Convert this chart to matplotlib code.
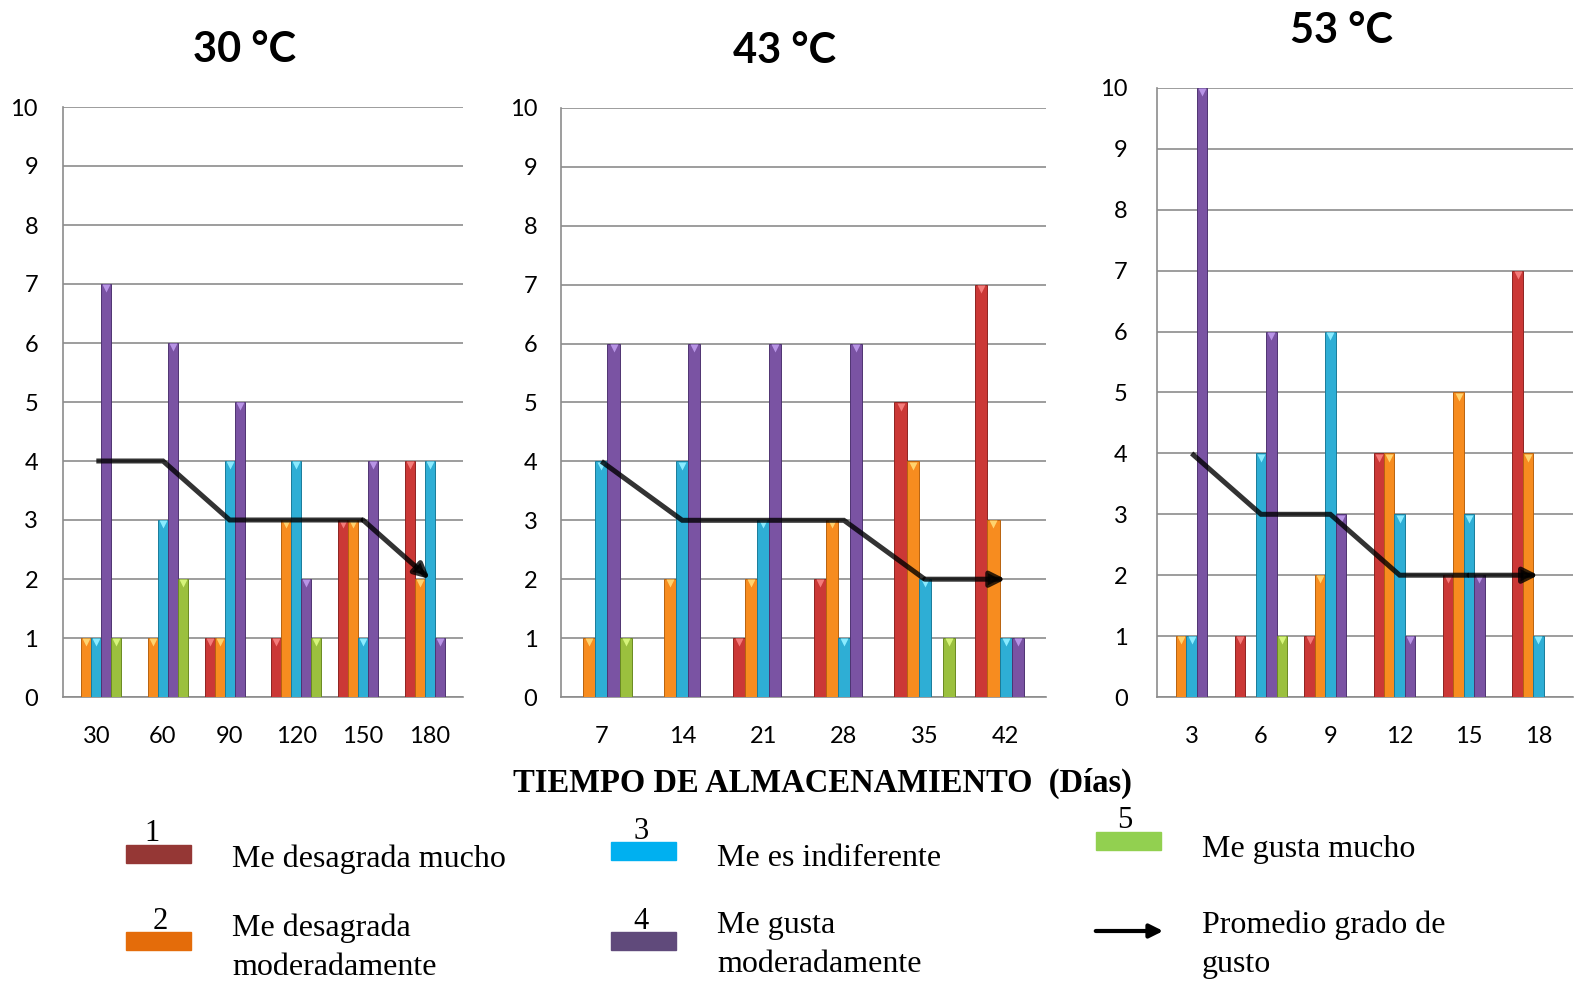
import numpy as np
import matplotlib
matplotlib.use("Agg")
import matplotlib.pyplot as plt
from matplotlib.patches import Rectangle, FancyArrowPatch

# ---- data ----
dias_30 = [30, 60, 90, 120, 150, 180]
dias_43 = [7, 14, 21, 28, 35, 42]
dias_53 = [3, 6, 9, 12, 15, 18]

# rows: grado 1 (desagrada mucho) .. grado 5 (gusta mucho)
votos_30 = [
    [0, 0, 1, 1, 3, 4],
    [1, 1, 1, 3, 3, 2],
    [1, 3, 4, 4, 1, 4],
    [7, 6, 5, 2, 4, 1],
    [1, 2, 0, 1, 0, 0],
]
votos_43 = [
    [0, 0, 1, 2, 5, 7],
    [1, 2, 2, 3, 4, 3],
    [4, 4, 3, 1, 2, 1],
    [6, 6, 6, 6, 0, 1],
    [1, 0, 0, 0, 1, 0],
]
votos_53 = [
    [0, 1, 1, 4, 2, 7],
    [1, 0, 2, 4, 5, 4],
    [1, 4, 6, 3, 3, 1],
    [10, 6, 3, 1, 2, 0],
    [0, 1, 0, 0, 0, 0],
]
promedio_30 = [4, 4, 3, 3, 3, 2]
promedio_43 = [4, 3, 3, 3, 2, 2]
promedio_53 = [4, 3, 3, 2, 2, 2]

titulos = ["30 °C", "43 °C", "53 °C"]
grados = ["1", "2", "3", "4", "5"]
etiquetas = ["Me desagrada mucho", "Me desagrada\nmoderadamente", "Me es indiferente",
             "Me gusta\nmoderadamente", "Me gusta mucho"]

bar_colors = ["#CB3836", "#F78C1F", "#2EAED5", "#7A53A3", "#9BC03E"]
top_colors = ["#F47C7A", "#FFD36E", "#8AEBFF", "#B894E6", "#D6F47A"]
edge_colors = ["#8E2422", "#B8620F", "#1A7C9A", "#4F3472", "#6A8A22"]
legend_colors = ["#953735", "#E46C0A", "#00B0F0", "#604A7B", "#92D050"]

W, H = 1574, 988
fig = plt.figure(figsize=(W / 100, H / 100), dpi=100)


def fx(x):
    return x / W


def fy(y):
    return 1 - y / H


# axes boxes in pixels: left, top(10), right, bottom(0)
boxes = [(63, 107, 463, 697), (561, 108, 1046, 697), (1157, 88, 1573, 697)]
title_pos = [(245, 50), (785, 51), (1342, 31)]
ypads = [18, 17, 21]

panels = [
    (dias_30, votos_30, promedio_30),
    (dias_43, votos_43, promedio_43),
    (dias_53, votos_53, promedio_53),
]

grid_gray = "#8C8C8C"
w = 0.15

for i, (dias, votos, prom) in enumerate(panels):
    l, t, r, b = boxes[i]
    ax = fig.add_axes([fx(l), fy(b), fx(r) - fx(l), fy(t) - fy(b)])
    x = np.arange(len(dias))
    for k in range(5):
        v = np.array(votos[k], dtype=float)
        pos = x + (k - 2) * w
        m = v > 0
        ax.bar(pos[m], v[m], width=w, color=bar_colors[k],
               edgecolor=edge_colors[k], linewidth=0.7, zorder=3)
        # light top face of the 3D bars
        ax.plot(pos[m], v[m] - 0.07, "v", ms=5.5, color=top_colors[k],
                mec="none", zorder=4)

    # promedio line with arrow on the last segment
    ax.plot(x[:-1], prom[:-1], color="black", alpha=0.8, lw=3.6,
            solid_joinstyle="miter", solid_capstyle="butt", zorder=5)
    ax.annotate("", xy=(x[-1], prom[-1]), xytext=(x[-2], prom[-2]),
                arrowprops=dict(arrowstyle="-|>", color="black", alpha=0.8,
                                lw=3.6, mutation_scale=22,
                                shrinkA=0, shrinkB=0),
                zorder=5)

    ax.set_xlim(-0.5, 5.5)
    ax.set_ylim(0, 10)
    ax.set_yticks(range(0, 11))
    ax.set_xticks(x)
    ax.set_xticklabels([str(d) for d in dias])
    ax.grid(axis="y", color=grid_gray, lw=1.2, zorder=0)
    ax.set_axisbelow(True)
    for s in ["top", "right"]:
        ax.spines[s].set_visible(False)
    for s in ["left", "bottom"]:
        ax.spines[s].set_color(grid_gray)
        ax.spines[s].set_linewidth(1.2)
    ax.tick_params(axis="both", length=0, labelsize=17)
    ax.tick_params(axis="y", pad=ypads[i])
    ax.tick_params(axis="x", pad=21)
    for lab in ax.get_xticklabels() + ax.get_yticklabels():
        lab.set_family("Lato")

    tx, ty = title_pos[i]
    fig.text(fx(tx), fy(ty), titulos[i], ha="center", va="center",
             fontsize=30, fontweight="bold", family="Lato")

fig.text(fx(822), fy(783), "TIEMPO DE ALMACENAMIENTO  (Días)", ha="center",
         va="center", fontsize=23.5, fontweight="bold", family="Liberation Serif")

# legend built by hand
sw_pos = [(126, 845), (126, 932), (611, 842), (611, 932), (1096, 832)]
num_pos = [(152, 833), (160, 921), (641, 831), (641, 921), (1125, 820)]
txt_pos = [(232, 859), (232, 948), (717, 859), (717, 945), (1202, 849)]
for k in range(5):
    sx, sy = sw_pos[k]
    fig.patches.append(Rectangle((fx(sx), fy(sy + 18)), 65 / W, 18 / H,
                                 transform=fig.transFigure,
                                 color=legend_colors[k]))
    nx, ny = num_pos[k]
    fig.text(fx(nx), fy(ny), grados[k], ha="center", va="center",
             fontsize=22, family="Liberation Serif")
    lx, ly = txt_pos[k]
    fig.text(fx(lx), fy(ly), etiquetas[k], ha="left", va="center",
             fontsize=23, family="Liberation Serif", linespacing=1.45)

fig.patches.append(FancyArrowPatch((fx(1093), fy(931)), (fx(1166), fy(931)),
                                   transform=fig.transFigure,
                                   arrowstyle="-|>", mutation_scale=20,
                                   lw=3, color="black"))
fig.text(fx(1202), fy(945), "Promedio grado de\ngusto", ha="left", va="center",
         fontsize=23, family="Liberation Serif", linespacing=1.45)

fig.savefig("out.png", dpi=100)
